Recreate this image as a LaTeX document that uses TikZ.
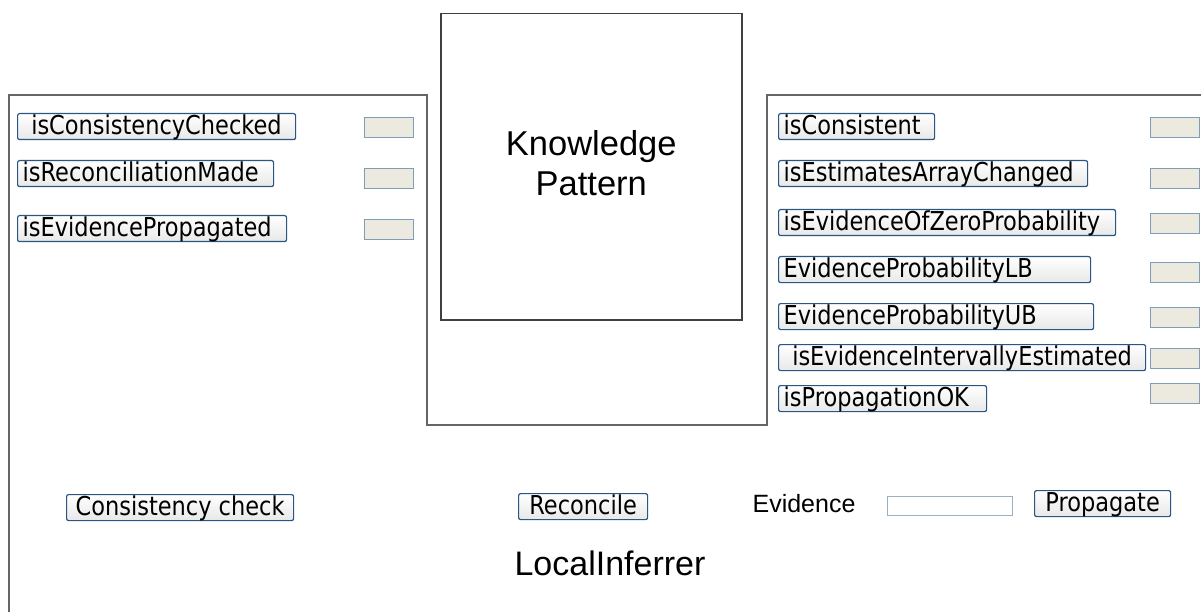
\documentclass[tikz,border=0pt]{standalone}
\usepackage{fontspec}
\setmainfont{Liberation Sans}
\newfontfamily\btnfont{DejaVu Sans}[FakeStretch=0.865]
\definecolor{btnborder}{HTML}{2B5683}
\definecolor{fieldfill}{HTML}{ECE9DF}
\definecolor{fieldborder}{HTML}{7F9DB9}
\definecolor{panelgray}{HTML}{666666}
\tikzset{
  btn/.style={draw=btnborder, line width=1.2pt, rounded corners=2pt,
    top color=white, bottom color=black!9, anchor=north west,
    inner xsep=5pt, inner ysep=1pt, text height=20pt, text depth=4pt,
    font=\btnfont\fontsize{26}{30}\selectfont},
  lbtn/.style={btn, align=left},
  fieldbox/.style={draw=fieldborder, line width=1.3pt, fill=fieldfill,
    anchor=north west, minimum width=49pt, minimum height=20pt, inner sep=0pt},
  panel/.style={draw=panelgray, line width=2pt},
}
\begin{document}
\begin{tikzpicture}[x=1pt,y=-1pt]
\useasboundingbox (0,0) rectangle (1201,612);
% outer panel outline
\draw[panel] (9,613) -- (9,95) -- (427,95) -- (427,425) -- (767,425) -- (767,95) -- (1202,95);
% knowledge pattern box
\node[draw=black!75, line width=1.5pt, minimum width=301pt, minimum height=306pt,
  anchor=north west, inner sep=0pt] (kp) at (440,13) {};
\node[align=center, font=\fontsize{34.5}{40}\selectfont] (kptext) at ([yshift=4pt]kp.center) {Knowledge\\Pattern};

% left buttons
\node[lbtn, text width=268pt] (b1) at (17,113) {\ isConsistencyChecked};
\node[lbtn, text width=246pt] (b2) at (17,160) {isReconciliationMade};
\node[lbtn, text width=259pt] (b3) at (17,215) {isEvidencePropagated};
\node[fieldbox] (f1) at (364,117) {};
\node[fieldbox] (f2) at (364,168) {};
\node[fieldbox] (f3) at (364,219) {};

% right buttons
\node[lbtn, text width=146pt] (r1) at (778,113) {isConsistent};
\node[lbtn, text width=299pt] (r2) at (778,160) {isEstimatesArrayChanged};
\node[lbtn, text width=327pt] (r3) at (778,209) {isEvidenceOfZeroProbability};
\node[lbtn, text width=302pt] (r4) at (778,256) {EvidenceProbabilityLB};
\node[lbtn, text width=305pt] (r5) at (778,303) {EvidenceProbabilityUB};
\node[lbtn, text width=357pt] (r6) at (778,344) {\ isEvidenceIntervallyEstimated};
\node[lbtn, text width=198pt] (r7) at (778,385) {isPropagationOK};
\node[fieldbox] (g1) at (1150,117) {};
\node[fieldbox] (g2) at (1150,168) {};
\node[fieldbox] (g3) at (1150,213) {};
\node[fieldbox] (g4) at (1150,262) {};
\node[fieldbox] (g5) at (1150,307) {};
\node[fieldbox] (g6) at (1150,348) {};
\node[fieldbox] (g7) at (1150,383) {};

% bottom row
\node[btn, minimum width=227pt] (cc) at (66,494) {Consistency check};
\node[btn, minimum width=129pt] (rec) at (518,493) {Reconcile};
\node[font=\fontsize{25}{30}\selectfont] (ev) at (804,504) {Evidence};
\node[draw=fieldborder!80, line width=1.2pt, fill=white, anchor=north west,
  minimum width=125pt, minimum height=19pt, inner sep=0pt] (evf) at (887,496) {};
\node[btn, minimum width=136pt] (prop) at (1034,490) {Propagate};
\node[font=\fontsize{34}{40}\selectfont] (li) at (610,563) {LocalInferrer};
\end{tikzpicture}
\end{document}
